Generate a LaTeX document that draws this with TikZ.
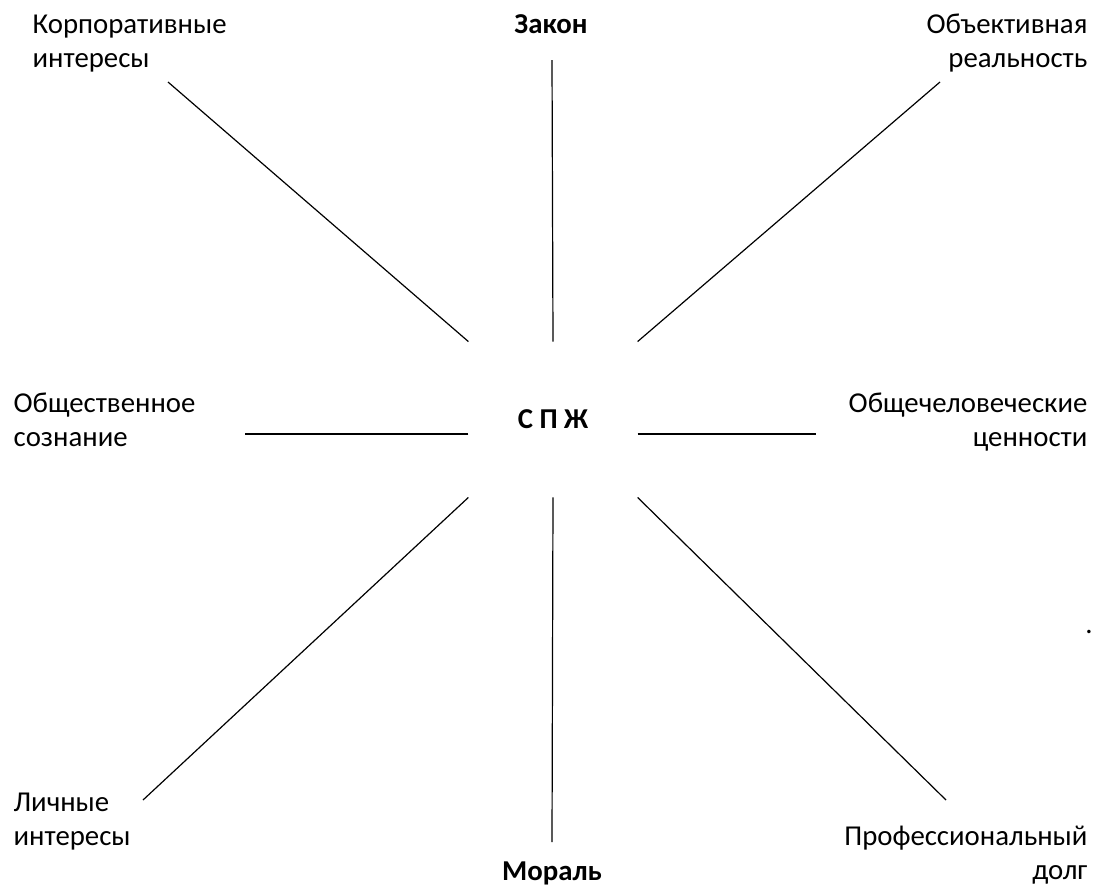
\documentclass[tikz,border=0pt]{standalone}
\usepackage{fontspec}
\setmainfont{Carlito}

\begin{document}
\begin{tikzpicture}[x=0.75pt, y=-0.75pt, line width=0.9pt,
  lbl/.style={inner sep=0pt, font=\fontsize{21.6}{25.5}\selectfont},
  lblb/.style={lbl, font=\fontsize{21.6}{25.5}\selectfont\bfseries}]
\useasboundingbox (0,0) rectangle (1093,886);

\node[lblb, minimum width=126pt, minimum height=116pt] (spzh) at (553,419.5) {С П Ж};

\node[lbl, anchor=base west, align=left] (korp) at (32,67) {Корпоративные\\интересы};
\node[lblb, anchor=base] (zakon) at (551,33) {Закон};
\node[lbl, anchor=base east, align=right] (obj) at (1088,67) {Объективная\\реальность};
\node[lbl, anchor=base west, align=left] (obsch) at (13,446) {Общественное\\сознание};
\node[lbl, anchor=base east, align=right] (obchel) at (1088,446) {Общечеловеческие\\ценности};
\node[lbl, anchor=base west, align=left] (lich) at (13,845) {Личные\\интересы};
\node[lblb, anchor=base] (moral) at (552,880) {Мораль};
\node[lbl, anchor=base east, align=right] (prof) at (1088,879) {Профессиональный\\долг};
\node[lbl, anchor=base] (dot) at (1089,633) {.};

\coordinate (korp-e) at (168,82);
\coordinate (zakon-e) at (552,60);
\coordinate (obj-e) at (940,82);
\coordinate (obsch-e) at (245,434);
\coordinate (obchel-e) at (816,434);
\coordinate (lich-e) at (143,800);
\coordinate (moral-e) at (552,842);
\coordinate (prof-e) at (946,800);

\draw (spzh.north west) -- (korp-e);
\draw (spzh.north) -- (zakon-e);
\draw (spzh.north east) -- (obj-e);
\draw (spzh.west |- obsch-e) -- (obsch-e);
\draw (spzh.east |- obchel-e) -- (obchel-e);
\draw (spzh.south west) -- (lich-e);
\draw (spzh.south) -- (moral-e);
\draw (spzh.south east) -- (prof-e);
\end{tikzpicture}
\end{document}
